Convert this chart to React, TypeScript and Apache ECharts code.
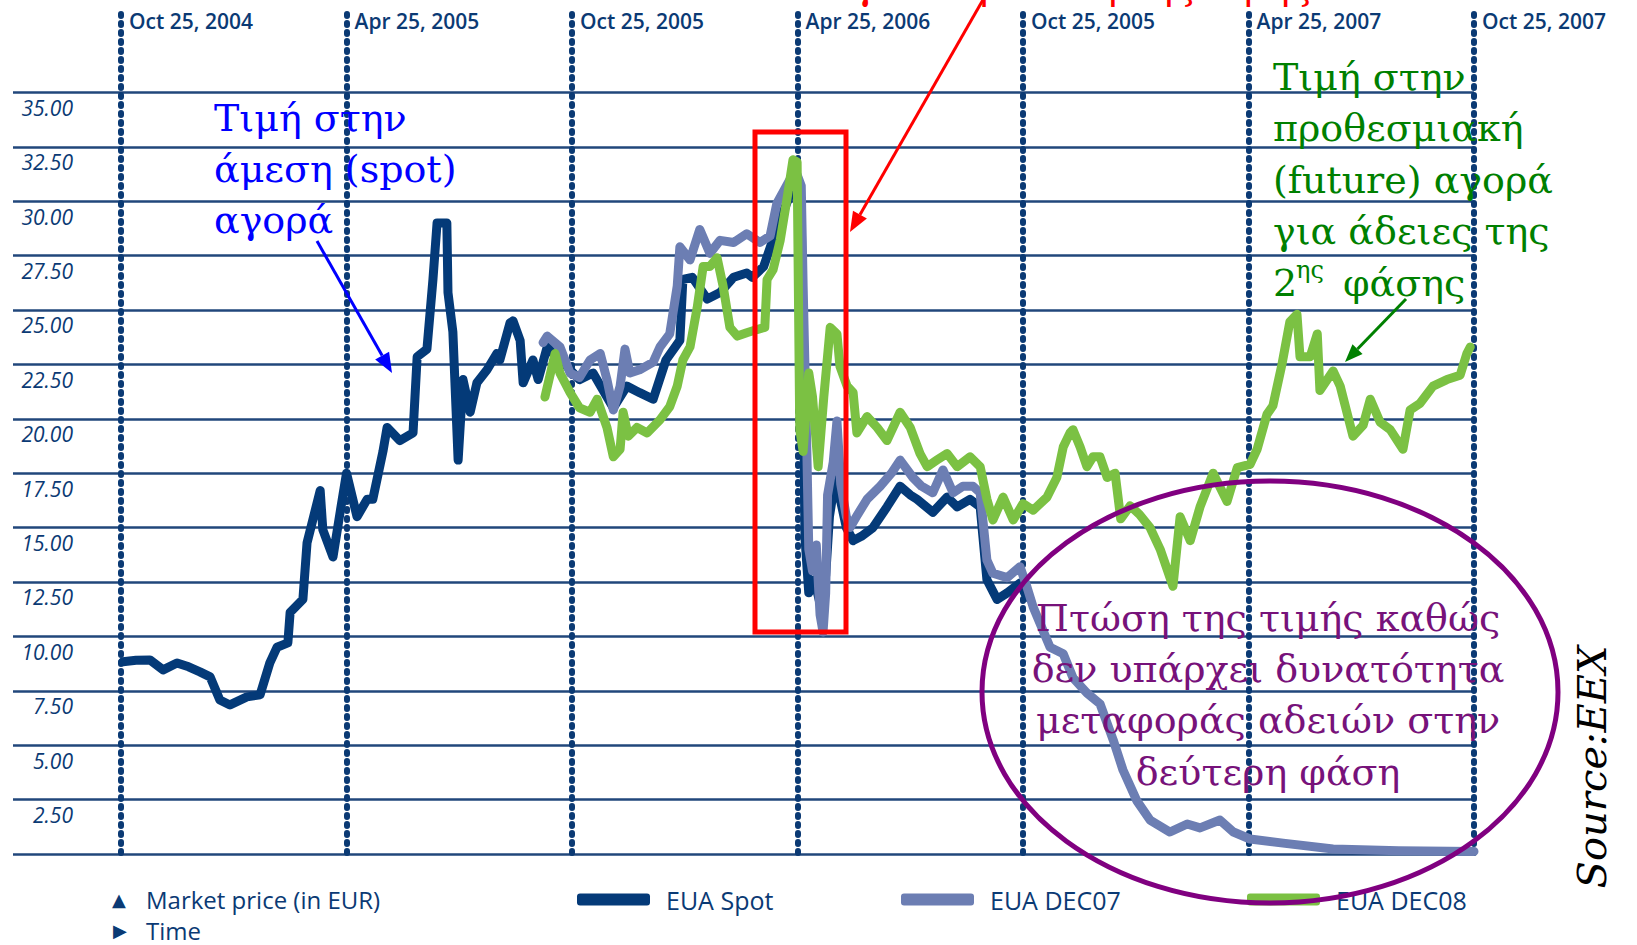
import React, { useEffect, useRef } from 'react';
import * as echarts from 'echarts';

// ---------- data ----------
const xTickLabels = ['Oct 25, 2004', 'Apr 25, 2005', 'Oct 25, 2005', 'Apr 25, 2006', 'Oct 25, 2005', 'Apr 25, 2007', 'Oct 25, 2007'];
const yTickLabels = ['2.50', '5.00', '7.50', '10.00', '12.50', '15.00', '17.50', '20.00', '22.50', '25.00', '27.50', '30.00', '32.50', '35.00'];

// months since Oct 25, 2004
const spotMonths = [0.05, 0.4, 0.77, 1.12, 1.49, 1.8, 2.1, 2.37, 2.63, 2.9, 3.35, 3.7, 3.96, 4.15, 4.44, 4.5, 4.84, 4.95, 5.3, 5.37, 5.64, 5.83, 6.0, 6.28, 6.55, 6.7, 6.97, 7.08, 7.42, 7.77, 7.88, 8.14, 8.3, 8.41, 8.67, 8.7, 8.83, 8.97, 9.1, 9.29, 9.47, 9.74, 10.0, 10.08, 10.35, 10.43, 10.62, 10.7, 10.96, 11.1, 11.34, 11.6, 11.87, 12.2, 12.56, 13.1, 13.46, 13.8, 14.16, 14.5, 14.87, 14.95, 15.2, 15.6, 15.94, 16.3, 16.65, 16.8, 17.1, 17.4, 17.8, 17.97, 18.1, 18.15, 18.2, 18.3, 18.45, 18.6, 18.75, 18.85, 19.0, 19.15, 19.3, 19.48, 19.7, 20.01, 20.38, 20.73, 21.0, 21.18, 21.6, 21.98, 22.25, 22.59, 22.86, 23.04, 23.31, 23.58, 23.92, 24.1];
const spotPrices = [8.83, 8.9, 8.92, 8.46, 8.78, 8.6, 8.37, 8.14, 7.08, 6.85, 7.22, 7.31, 8.78, 9.5, 9.7, 11.1, 11.7, 14.3, 16.7, 14.9, 13.65, 15.7, 17.5, 15.5, 16.3, 16.3, 18.5, 19.6, 19.0, 19.35, 22.85, 23.2, 26.4, 29.0, 29.0, 25.8, 24.0, 18.1, 21.8, 20.3, 21.65, 22.25, 23.0, 22.7, 24.4, 24.5, 23.6, 21.65, 22.7, 21.8, 23.3, 22.8, 22.4, 21.8, 22.1, 20.5, 21.5, 21.2, 20.9, 22.7, 23.6, 26.4, 26.5, 25.5, 25.8, 26.5, 26.7, 26.5, 27.0, 28.5, 30.3, 30.8, 29.5, 22.0, 14.5, 12.0, 12.6, 11.5, 12.8, 15.5, 17.2, 16.2, 15.0, 14.4, 14.6, 15.0, 15.95, 16.9, 16.5, 16.3, 15.7, 16.4, 15.95, 16.3, 15.95, 12.6, 11.7, 12.0, 12.45, 11.8];

const dec07Months = [11.23, 11.34, 11.68, 11.95, 12.2, 12.48, 12.75, 12.93, 13.1, 13.28, 13.41, 13.54, 13.8, 14.16, 14.34, 14.6, 14.8, 14.87, 15.14, 15.4, 15.67, 15.94, 16.3, 16.65, 17.0, 17.27, 17.45, 17.8, 17.97, 18.1, 18.15, 18.25, 18.3, 18.4, 18.5, 18.6, 18.68, 18.75, 18.8, 18.95, 19.05, 19.15, 19.3, 19.4, 19.6, 19.85, 20.2, 20.5, 20.73, 21.07, 21.3, 21.6, 21.87, 22.14, 22.4, 22.67, 22.86, 23.04, 23.2, 23.58, 23.92, 24.1, 24.27, 24.72, 25.07, 25.33, 25.7, 26.05, 26.4, 26.66, 27.03, 27.38, 27.91, 28.37, 28.71, 29.24, 29.6, 30.04, 30.92, 32.25, 34.0, 36.0];
const dec07Prices = [23.5, 23.8, 23.3, 22.1, 21.9, 22.7, 23.0, 21.8, 20.4, 21.5, 23.2, 22.1, 22.25, 22.6, 23.3, 23.9, 26.1, 27.9, 27.3, 28.7, 27.6, 28.2, 28.1, 28.5, 28.1, 28.4, 29.9, 31.0, 31.3, 30.7, 26.1, 18.4, 14.0, 13.0, 14.2, 11.0, 10.2, 12.0, 16.5, 18.0, 19.9, 17.0, 15.5, 15.0, 15.6, 16.3, 16.9, 17.5, 18.1, 17.3, 16.9, 16.6, 17.65, 16.6, 16.9, 16.9, 16.6, 13.5, 12.9, 12.7, 13.2, 12.3, 11.35, 9.5, 9.2, 8.1, 7.4, 6.9, 5.24, 3.86, 2.44, 1.56, 1.01, 1.38, 1.2, 1.56, 1.01, 0.69, 0.5, 0.23, 0.15, 0.12];

const dec08Months = [11.28, 11.55, 11.68, 11.95, 12.2, 12.48, 12.67, 12.93, 13.1, 13.28, 13.36, 13.5, 13.73, 14.0, 14.34, 14.6, 14.8, 14.95, 15.14, 15.33, 15.49, 15.67, 15.86, 16.02, 16.2, 16.4, 16.65, 16.92, 17.13, 17.19, 17.35, 17.54, 17.72, 17.88, 17.99, 18.06, 18.15, 18.3, 18.4, 18.55, 18.7, 18.87, 19.05, 19.13, 19.32, 19.48, 19.58, 19.85, 20.12, 20.38, 20.73, 21.0, 21.26, 21.45, 21.71, 21.98, 22.25, 22.59, 22.86, 23.04, 23.2, 23.47, 23.74, 24.0, 24.27, 24.64, 24.9, 25.07, 25.25, 25.33, 25.52, 25.7, 25.86, 26.05, 26.24, 26.45, 26.6, 26.85, 27.1, 27.38, 27.65, 27.99, 28.18, 28.45, 28.71, 29.06, 29.43, 29.7, 30.04, 30.23, 30.49, 30.65, 30.89, 31.1, 31.29, 31.37, 31.64, 31.83, 31.9, 32.25, 32.44, 32.78, 33.05, 33.24, 33.5, 33.77, 34.11, 34.3, 34.56, 34.91, 35.28, 35.63, 35.81, 35.9];
const dec08Prices = [21.0, 23.0, 22.1, 21.2, 20.5, 20.3, 20.9, 19.6, 18.25, 18.6, 20.3, 19.2, 19.6, 19.35, 19.95, 20.55, 21.5, 22.7, 23.3, 25.1, 27.0, 27.0, 27.4, 26.1, 24.2, 23.8, 23.95, 24.1, 24.2, 26.4, 26.85, 28.2, 30.1, 31.9, 31.8, 19.5, 18.5, 22.1, 21.0, 17.8, 21.0, 24.2, 23.9, 22.4, 21.5, 21.2, 19.35, 20.1, 19.6, 19.0, 20.3, 19.6, 18.4, 17.8, 18.1, 18.4, 17.8, 18.25, 17.8, 16.3, 15.35, 16.4, 15.35, 16.1, 15.8, 16.4, 17.3, 18.7, 19.35, 19.5, 18.7, 17.8, 18.25, 18.25, 17.3, 17.5, 15.4, 16.0, 15.6, 15.0, 14.0, 12.3, 15.5, 14.4, 15.95, 17.5, 16.2, 17.75, 17.9, 18.6, 20.2, 20.6, 22.5, 24.45, 24.8, 22.85, 22.85, 23.9, 21.3, 22.2, 21.5, 19.2, 19.7, 20.9, 19.85, 19.5, 18.6, 20.4, 20.7, 21.5, 21.8, 22.0, 23.0, 23.3];

// ---------- styling ----------
const NAVY = '#0b3a74';
const GRID_COLOR = '#21477b';
const SPOT_COLOR = '#043a78';
const DEC07_COLOR = '#6c7eb3';
const DEC08_COLOR = '#7bc143';
const SANS = '"Open Sans", "DejaVu Sans", sans-serif';
const SERIF = '"DejaVu Serif", serif';

function pairs(t: number[], v: number[]) {
  return t.map((x, i) => [x, v[i]]);
}

function arrow(x1: number, y1: number, x2: number, y2: number, color: string, w: number, head: number, hw: number) {
  const dx = x2 - x1, dy = y2 - y1;
  const L = Math.hypot(dx, dy);
  const ux = dx / L, uy = dy / L;
  const bx = x2 - ux * head, by = y2 - uy * head;
  const nx = -uy, ny = ux;
  return [
    { type: 'line', z: 100, shape: { x1, y1, x2: bx, y2: by }, style: { stroke: color, lineWidth: w } },
    { type: 'polygon', z: 100, shape: { points: [[x2, y2], [bx + nx * hw, by + ny * hw], [bx - nx * hw, by - ny * hw]] }, style: { fill: color } },
  ];
}

function lineSeries(name: string, t: number[], v: number[], color: string) {
  return {
    name,
    type: 'line',
    xAxisIndex: 1,
    yAxisIndex: 1,
    data: pairs(t, v),
    showSymbol: false,
    symbol: 'none',
    color,
    lineStyle: { color, width: 9, cap: 'round', join: 'round' },
  };
}

function legendFor(name: string, left: number) {
  return {
    data: [name],
    left,
    top: 882,
    icon: 'roundRect',
    itemWidth: 73,
    itemHeight: 12,
    selectedMode: false,
    textStyle: { color: NAVY, fontFamily: SANS, fontSize: 25, padding: [0, 0, 0, 11] },
  };
}

export default function App() {
  const ref = useRef<HTMLDivElement>(null);

  useEffect(() => {
    if (!ref.current) return;
    const chart = echarts.init(ref.current, null, { renderer: 'svg' });

    const elements: any[] = [
      // red box
      { type: 'rect', z: 100, shape: { x: 755, y: 132, width: 91, height: 500 }, style: { fill: 'none', stroke: '#ff0000', lineWidth: 5 } },
      ...arrow(984, -2, 850, 232, '#ff0000', 3, 20, 8),
      { type: 'text', z: 100, x: 803, y: -33, style: { text: 'Ραγδαία μείωση της τιμής', fill: '#ff0000', fontFamily: SERIF, fontSize: 38, align: 'left', verticalAlign: 'top' } },
      // blue annotation
      { type: 'text', z: 100, x: 214, y: 92, style: { text: 'Τιμή στην\nάμεση (spot)\nαγορά', fill: '#0000ff', fontFamily: SERIF, fontSize: 38, lineHeight: 51, align: 'left', verticalAlign: 'top' } },
      ...arrow(317, 241, 392, 373, '#0000ff', 3, 20, 8),
      // green annotation
      { type: 'text', z: 100, x: 1273, y: 51, style: { text: 'Τιμή στην\nπροθεσμιακή\n(future) αγορά\nγια άδειες της', fill: '#008000', fontFamily: SERIF, fontSize: 38, lineHeight: 51.5, align: 'left', verticalAlign: 'top' } },
      { type: 'text', z: 100, x: 1273, y: 283, style: { text: '2', fill: '#008000', fontFamily: SERIF, fontSize: 38, align: 'left', verticalAlign: 'middle' } },
      { type: 'text', z: 100, x: 1296, y: 270, style: { text: 'ης', fill: '#008000', fontFamily: SERIF, fontSize: 24, align: 'left', verticalAlign: 'middle' } },
      { type: 'text', z: 100, x: 1343, y: 283, style: { text: 'φάσης', fill: '#008000', fontFamily: SERIF, fontSize: 38, align: 'left', verticalAlign: 'middle' } },
      ...arrow(1406, 299, 1345, 362, '#008000', 3, 18, 7),
      // purple ellipse + text
      { type: 'ellipse', z: 101, shape: { cx: 1270, cy: 692, rx: 288, ry: 211 }, style: { fill: 'none', stroke: '#800080', lineWidth: 5 } },
      { type: 'text', z: 100, x: 1268, y: 592, style: { text: 'Πτώση της τιμής καθώς\nδεν υπάρχει δυνατότητα\nμεταφοράς αδειών στην\nδεύτερη φάση', fill: '#77127a', fontFamily: SERIF, fontSize: 38, lineHeight: 51.3, align: 'center', verticalAlign: 'top' } },
      // source
      { type: 'text', z: 100, x: 1592, y: 767, rotation: Math.PI / 2, style: { text: 'Source:EEX', fill: '#000000', fontFamily: SERIF, fontStyle: 'italic', fontSize: 40, align: 'center', verticalAlign: 'middle' } },
      // legend extras
      { type: 'text', z: 100, x: 112, y: 899, style: { text: '▲', fill: NAVY, fontFamily: '"DejaVu Sans", sans-serif', fontSize: 18, align: 'left', verticalAlign: 'middle' } },
      { type: 'text', z: 100, x: 146, y: 899, style: { text: 'Market price (in EUR)', fill: NAVY, fontFamily: SANS, fontSize: 24, align: 'left', verticalAlign: 'middle' } },
      { type: 'text', z: 100, x: 113, y: 930, style: { text: '▶', fill: NAVY, fontFamily: '"DejaVu Sans", sans-serif', fontSize: 18, align: 'left', verticalAlign: 'middle' } },
      { type: 'text', z: 100, x: 146, y: 930, style: { text: 'Time', fill: NAVY, fontFamily: SANS, fontSize: 24, align: 'left', verticalAlign: 'middle' } },
    ];

    chart.setOption({
      animation: false,
      backgroundColor: '#ffffff',
      grid: [
        { left: 13, right: 163, top: 92.5, bottom: 91 },
        { left: 121, right: 163, top: 14, bottom: 91 },
      ],
      xAxis: [
        { gridIndex: 0, type: 'value', min: 0, max: 1, show: false },
        {
          gridIndex: 1, type: 'value', min: 0, max: 36, interval: 6, position: 'top',
          axisLine: { show: false }, axisTick: { show: false },
          axisLabel: {
            formatter: (v: number) => xTickLabels[Math.round(v / 6)] ?? '',
            align: 'left', verticalAlign: 'middle', margin: -7, padding: [0, 0, 0, 8],
            color: NAVY, fontFamily: SANS, fontWeight: 600, fontSize: 21,
          },
          splitLine: { show: true, lineStyle: { color: NAVY, width: 6, type: [2, 7], cap: 'round' } },
        },
      ],
      yAxis: [
        {
          gridIndex: 0, type: 'value', min: 0, max: 35, interval: 2.5,
          axisLine: { show: false }, axisTick: { show: false }, axisLabel: { show: false },
          splitLine: { show: true, lineStyle: { color: GRID_COLOR, width: 2.5 } },
        },
        {
          gridIndex: 1, type: 'value', min: 0, max: 38.6, interval: 2.5,
          axisLine: { show: false }, axisTick: { show: false }, splitLine: { show: false },
          axisLabel: {
            formatter: (v: number) => {
              const k = Math.round(v / 2.5);
              if (Math.abs(v - k * 2.5) > 1e-6) return '';
              return yTickLabels[k - 1] ?? '';
            },
            margin: 48, align: 'right', verticalAlign: 'top', padding: [5, 0, 0, 0],
            color: NAVY, fontFamily: SANS, fontStyle: 'italic', fontSize: 21,
          },
        },
      ],
      legend: [
        legendFor('EUA Spot', 572),
        legendFor('EUA DEC07', 896),
        legendFor('EUA DEC08', 1242),
      ],
      series: [
        lineSeries('EUA Spot', spotMonths, spotPrices, SPOT_COLOR),
        lineSeries('EUA DEC07', dec07Months, dec07Prices, DEC07_COLOR),
        lineSeries('EUA DEC08', dec08Months, dec08Prices, DEC08_COLOR),
      ],
      graphic: { elements },
    });

    return () => chart.dispose();
  }, []);

  return (
    <div
      ref={ref}
      style={{ position: 'fixed', left: 0, top: 0, width: 1637, height: 945, background: '#fff' }}
    />
  );
}
